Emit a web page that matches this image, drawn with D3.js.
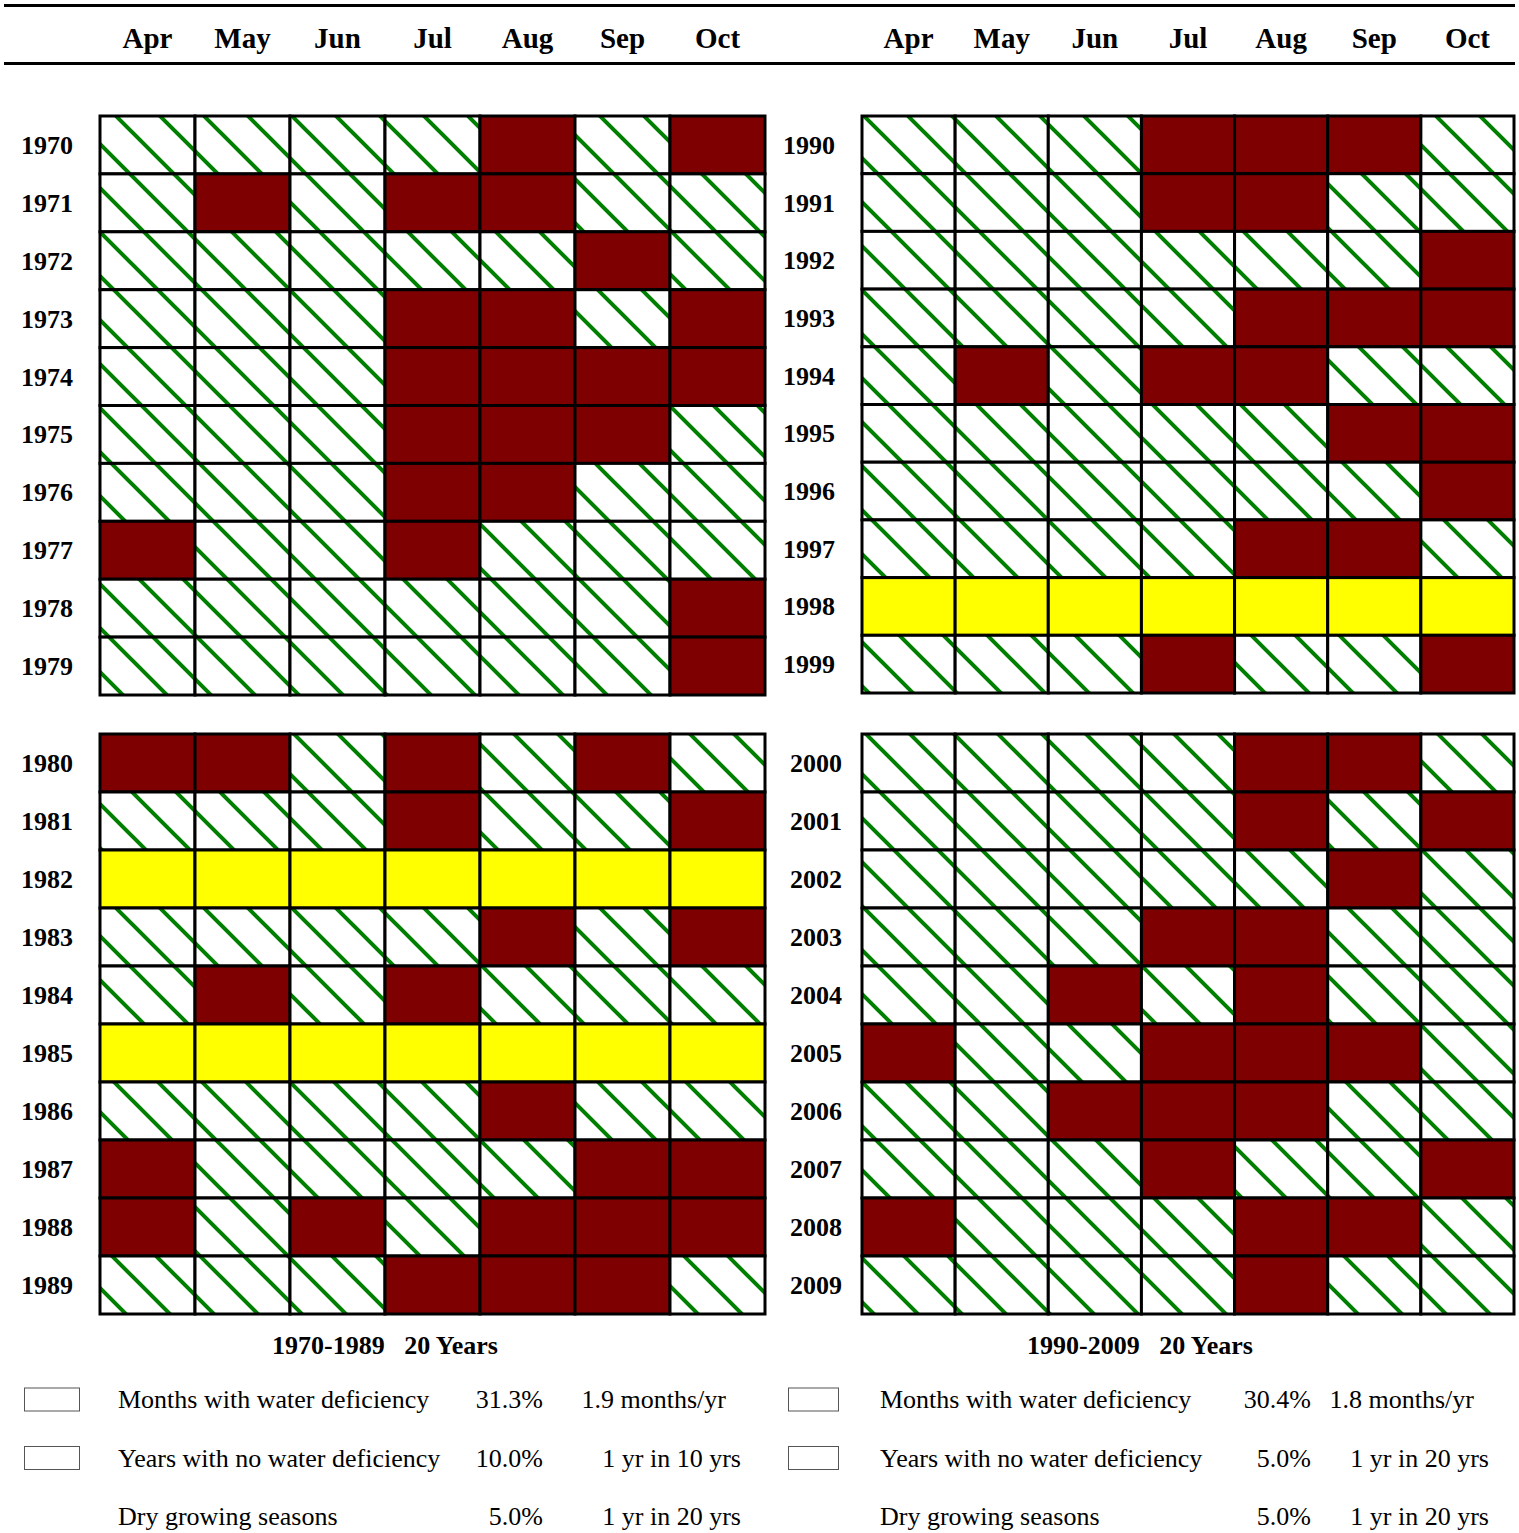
<!DOCTYPE html>
<html>
<head>
<meta charset="utf-8">
<script src="https://cdn.jsdelivr.net/npm/d3@7"></script>
<style>
  body { margin: 0; background: #fff; }
  text { font-family: 'Liberation Serif', 'Times New Roman', serif; white-space: pre; }
</style>
</head>
<body>
<svg id="chart" width="1519" height="1533"></svg>
<script>
// d = water deficiency month, h = no deficiency (hatched), y = year with no deficiency
const months = ['Apr', 'May', 'Jun', 'Jul', 'Aug', 'Sep', 'Oct'];

const years70s = ['1970','1971','1972','1973','1974','1975','1976','1977','1978','1979'];
const cells70s = ['hhhhdhd','hdhddhh','hhhhhdh','hhhddhd','hhhdddd','hhhdddh','hhhddhh','dhhdhhh','hhhhhhd','hhhhhhd'];

const years80s = ['1980','1981','1982','1983','1984','1985','1986','1987','1988','1989'];
const cells80s = ['ddhdhdh','hhhdhhd','yyyyyyy','hhhhdhd','hdhdhhh','yyyyyyy','hhhhdhh','dhhhhdd','dhdhddd','hhhdddh'];

const years90s = ['1990','1991','1992','1993','1994','1995','1996','1997','1998','1999'];
const cells90s = ['hhhdddh','hhhddhh','hhhhhhd','hhhhddd','hdhddhh','hhhhhdd','hhhhhhd','hhhhddh','yyyyyyy','hhhdhhd'];

const years00s = ['2000','2001','2002','2003','2004','2005','2006','2007','2008','2009'];
const cells00s = ['hhhhddh','hhhhdhd','hhhhhdh','hhhddhh','hhdhdhh','dhhdddh','hhdddhh','hhhdhhd','dhhhddh','hhhhdhh'];

const periodTitles = ['1970-1989   20 Years', '1990-2009   20 Years'];
const statLabels = ['Months with water deficiency', 'Years with no water deficiency', 'Dry growing seasons'];
const pct7089 = ['31.3%', '10.0%', '5.0%'];
const rate7089 = ['1.9 months/yr', '1 yr in 10 yrs', '1 yr in 20 yrs'];
const pct9009 = ['30.4%', '5.0%', '5.0%'];
const rate9009 = ['1.8 months/yr', '1 yr in 20 yrs', '1 yr in 20 yrs'];

const svg = d3.select('#chart');
const colors = {d: '#7f0000', y: '#ffff00', h: 'url(#hatch)'};

// hatch pattern (green diagonal lines on white)
const P = 44;
const pat = svg.append('defs').append('pattern')
  .attr('id', 'hatch')
  .attr('patternUnits', 'userSpaceOnUse')
  .attr('width', P).attr('height', P);
pat.append('rect').attr('width', P).attr('height', P).attr('fill', '#fff');
pat.append('path')
  .attr('d', `M-6,-6 L${P + 6},${P + 6} M-6,${P - 6} L6,${P + 6} M${P - 6},-6 L${P + 6},6`)
  .attr('stroke', '#008000').attr('stroke-width', 4);

// header rules
svg.append('line').attr('x1', 4).attr('x2', 1515).attr('y1', 5.5).attr('y2', 5.5)
  .attr('stroke', '#000').attr('stroke-width', 3);
svg.append('line').attr('x1', 4).attr('x2', 1515).attr('y1', 63.5).attr('y2', 63.5)
  .attr('stroke', '#000').attr('stroke-width', 3);

const xLeft = d3.scaleBand().domain(months).range([100, 765]);
const xRight = d3.scaleBand().domain(months).range([862, 1514]);

[xLeft, xRight].forEach(x => {
  svg.append('g').selectAll('text')
    .data(months).enter().append('text')
    .attr('x', d => x(d) + x.bandwidth() / 2)
    .attr('y', 48)
    .attr('text-anchor', 'middle')
    .attr('font-weight', 'bold')
    .attr('font-size', 29)
    .text(d => d);
});

function drawGrid(x, yRange, years, cells, labelRight) {
  const y = d3.scaleBand().domain(years).range(yRange);
  const g = svg.append('g');
  const data = [];
  years.forEach((yr, i) => {
    months.forEach((m, j) => data.push({yr, m, v: cells[i][j]}));
  });
  g.selectAll('rect').data(data).enter().append('rect')
    .attr('x', d => x(d.m))
    .attr('y', d => y(d.yr))
    .attr('width', x.bandwidth())
    .attr('height', y.bandwidth())
    .attr('fill', d => colors[d.v])
    .attr('stroke', '#000')
    .attr('stroke-width', 3);
  g.selectAll('text').data(years).enter().append('text')
    .attr('x', labelRight)
    .attr('y', d => y(d) + y.bandwidth() / 2 + 9)
    .attr('text-anchor', 'end')
    .attr('font-weight', 'bold')
    .attr('font-size', 26)
    .text(d => d);
}

drawGrid(xLeft, [116, 695], years70s, cells70s, 73);
drawGrid(xLeft, [734, 1314], years80s, cells80s, 73);
drawGrid(xRight, [116, 693], years90s, cells90s, 835);
drawGrid(xRight, [734, 1314], years00s, cells00s, 842);

// period titles
svg.append('text').attr('x', 385).attr('y', 1354).attr('text-anchor', 'middle')
  .attr('font-weight', 'bold').attr('font-size', 26).text(periodTitles[0]);
svg.append('text').attr('x', 1140).attr('y', 1354).attr('text-anchor', 'middle')
  .attr('font-weight', 'bold').attr('font-size', 26).text(periodTitles[1]);

// stats legend
const rowY = d3.scalePoint().domain(statLabels).range([1408, 1525]);

function drawStats(opt, pct, rate) {
  const g = svg.append('g').attr('font-size', 26);
  g.selectAll('rect').data(statLabels.slice(0, 2)).enter().append('rect')
    .attr('x', opt.box).attr('y', d => rowY(d) - 20)
    .attr('width', opt.boxW).attr('height', 23)
    .attr('fill', '#fff').attr('stroke', '#555').attr('stroke-width', 1);
  g.selectAll('.lab').data(statLabels).enter().append('text')
    .attr('x', opt.label).attr('y', d => rowY(d)).text(d => d);
  g.selectAll('.pct').data(pct).enter().append('text')
    .attr('x', opt.pct).attr('y', (d, i) => rowY(statLabels[i]))
    .attr('text-anchor', 'end').text(d => d);
  g.selectAll('.rate').data(rate).enter().append('text')
    .attr('x', (d, i) => i === 0 ? opt.rate0 : opt.rate)
    .attr('y', (d, i) => rowY(statLabels[i]))
    .attr('text-anchor', 'end').text(d => d);
}

drawStats({box: 24.5, boxW: 55, label: 118, pct: 543, rate0: 726, rate: 741}, pct7089, rate7089);
drawStats({box: 788.5, boxW: 50, label: 880, pct: 1311, rate0: 1474, rate: 1489}, pct9009, rate9009);
</script>
</body>
</html>
